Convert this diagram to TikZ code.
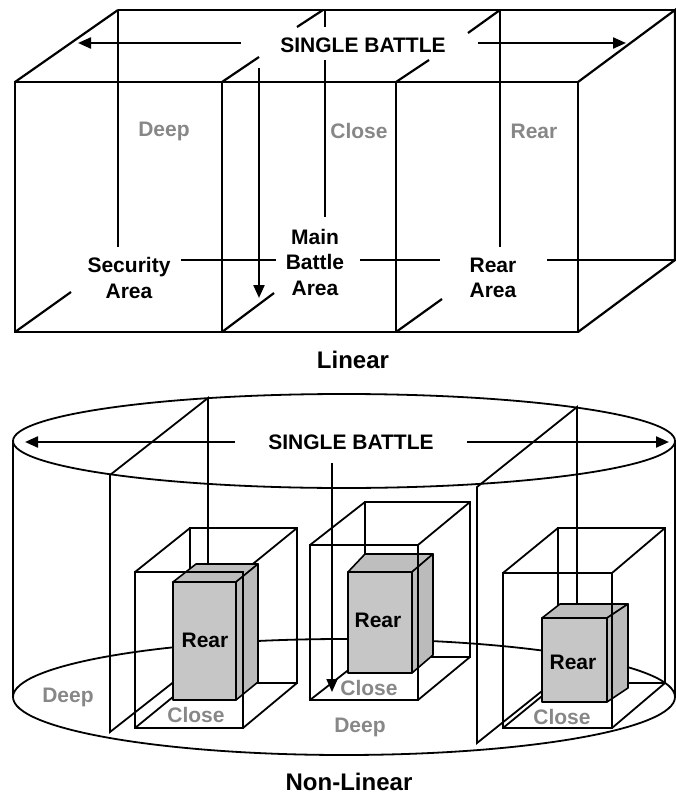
\documentclass[tikz,border=0pt]{standalone}
\usepackage{fontspec}
\setmainfont{Liberation Sans}
\usetikzlibrary{arrows.meta}
\definecolor{labelgray}{HTML}{878787}
\definecolor{boxgray}{HTML}{C6C6C6}
\definecolor{boxtop}{HTML}{BEBEBE}
\definecolor{boxside}{HTML}{BBBBBB}
\begin{document}
\begin{tikzpicture}[x=1pt,y=-1pt,
  thk/.style={line width=2.2pt},
  thn/.style={line width=1.8pt},
  arr/.style={-{Triangle[length=13pt,width=11pt]}},
  lbl/.style={font=\fontsize{21}{25.5}\selectfont\bfseries, align=center, inner sep=0pt},
  glbl/.style={lbl, text=labelgray},
  ttl/.style={font=\fontsize{24}{27}\selectfont\bfseries, inner sep=0pt},
  gbox/.style={draw=black, line width=1.6pt, line join=round}
]
\useasboundingbox (0,0) rectangle (676,802);

% ================= LINEAR =================
\begin{scope}[thk]
\draw (15,82) rectangle (578,332);
\draw (222,82) -- (222,332);
\draw (396,82) -- (396,332);
\draw (118,10) -- (675,10);
\draw (15,82) -- (118,10);
\draw (578,82) -- (675,10) -- (675,260) -- (578,332);
\draw (222,82) -- (259,57);
\draw (297,27) -- (323,10);
\draw (396,82) -- (429,60);
\draw (468,33) -- (500,10);
\draw (118,10) -- (118,247);
\draw (325,10) -- (325,27);
\draw (325,60) -- (325,217);
\draw (500,10) -- (500,247);
\draw (181,260) -- (276,260);
\draw (360,260) -- (440,260);
\draw (547,260) -- (675,260);
\draw (15,332) -- (71,292);
\draw (222,332) -- (274,293);
\draw (396,332) -- (442,299);
\end{scope}

\node[lbl] (sb1) at (363,45) {SINGLE BATTLE};
\coordinate (sb1l) at (241,43);
\coordinate (sb1lt) at (78,43);
\coordinate (sb1r) at (478,43);
\coordinate (sb1rt) at (626,43);
\draw[thk,arr] (sb1l) -- (sb1lt);
\draw[thk,arr] (sb1r) -- (sb1rt);
\coordinate (dn1a) at (259,68);
\coordinate (dn1b) at (259,298);
\draw[thk,arr] (dn1a) -- (dn1b);

\node[glbl] (deep1) at (164,131) {Deep};
\node[glbl] (close1) at (359,131) {Close};
\node[glbl] (rear1) at (534,131) {Rear};
\node[lbl] (sec) at (129,278) {Security\\Area};
\node[lbl] (mba) at (315,262) {Main\\Battle\\Area};
\node[lbl] (ra) at (493,278) {Rear\\Area};
\node[ttl] (lin) at (353,360) {Linear};

% ================= NON-LINEAR =================
\begin{scope}[thn]
\draw (344,441) ellipse [x radius=331pt, y radius=47pt];
\draw (344,697) ellipse [x radius=331pt, y radius=58pt];
\draw (13,441) -- (13,697);
\draw (675,441) -- (675,697);
\draw (110,475) -- (208,398) -- (208,655) -- (110,732) -- cycle;
\draw (477,487) -- (577,407) -- (577,663) -- (477,743) -- cycle;
\draw (190,528) rectangle (297,683);
\draw (135,572) -- (190,528) (243,572) -- (297,528) (135,728) -- (190,683) (243,728) -- (297,683);
\draw (365,502) rectangle (470,657);
\draw (310,545) -- (365,502) (418,545) -- (470,502) (310,700) -- (365,657) (418,700) -- (470,657);
\draw (558,528) rectangle (665,683);
\draw (503,573) -- (558,528) (612,573) -- (665,528) (503,728) -- (558,683) (612,728) -- (665,683);
\end{scope}

% gray boxes
\filldraw[gbox,fill=boxgray] (173,582) rectangle (236,700);
\filldraw[gbox,fill=boxtop] (173,582) -- (196,564) -- (258,564) -- (236,582) -- cycle;
\filldraw[gbox,fill=boxside] (236,582) -- (258,564) -- (258,682) -- (236,700) -- cycle;

\filldraw[gbox,fill=boxgray] (348,572) rectangle (412,673);
\filldraw[gbox,fill=boxtop] (348,572) -- (365,554) -- (433,554) -- (412,572) -- cycle;
\filldraw[gbox,fill=boxside] (412,572) -- (433,554) -- (433,655) -- (412,673) -- cycle;

\filldraw[gbox,fill=boxgray] (542,618) rectangle (607,702);
\filldraw[gbox,fill=boxtop] (542,618) -- (560,604) -- (628,604) -- (607,618) -- cycle;
\filldraw[gbox,fill=boxside] (607,618) -- (628,604) -- (628,688) -- (607,702) -- cycle;

% wire boxes: front faces
\begin{scope}[thn]
\draw (135,572) rectangle (243,728);
\draw (310,545) rectangle (418,700);
\draw (503,573) rectangle (612,728);
\end{scope}

\node[lbl] (sb2) at (351,442) {SINGLE BATTLE};
\coordinate (sb2l) at (235,442);
\coordinate (sb2lt) at (25,442);
\coordinate (sb2r) at (467,442);
\coordinate (sb2rt) at (669,442);
\draw[thk,arr] (sb2l) -- (sb2lt);
\draw[thk,arr] (sb2r) -- (sb2rt);
\coordinate (dn2a) at (332,463);
\coordinate (dn2b) at (332,692);
\draw[thn,arr] (dn2a) -- (dn2b);

\node[lbl] (rearA) at (205,640) {Rear};
\node[lbl] (rearB) at (378,620) {Rear};
\node[lbl] (rearC) at (573,662) {Rear};
\node[glbl] (closeA) at (196,715) {Close};
\node[glbl] (closeB) at (369,688) {Close};
\node[glbl] (closeC) at (562,717) {Close};
\node[glbl] (deepA) at (68,697) {Deep};
\node[glbl] (deepB) at (360,727) {Deep};
\node[ttl] (nlin) at (349,782) {Non-Linear};
\end{tikzpicture}
\end{document}
